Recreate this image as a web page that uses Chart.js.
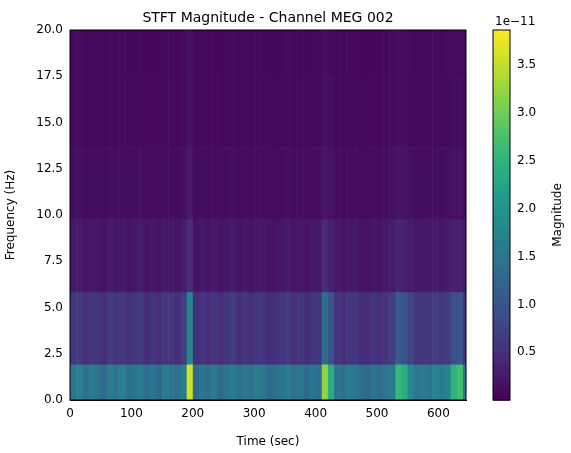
<!DOCTYPE html>
<html><head><script src="https://cdn.jsdelivr.net/npm/chart.js@4/dist/chart.umd.min.js"></script>
<style>body{margin:0;background:#fff}#a{position:absolute;left:0;top:0;width:480px;height:453px}#b{position:absolute;left:480px;top:0;width:91px;height:453px}</style>
</head><body><div id="a"><canvas id="c1"></canvas></div><div id="b"><canvas id="c2"></canvas></div>
<script>
const timeStep=10, timeMax=645;
const freqEdges=[0,1.95,5.86,9.77,13.67,17.58,21.5];
const band0=[1.5,1.7,1.4,1.6,1.5,1.3,1.6,1.5,1.7,1.4,1.5,1.6,1.4,1.5,1.3,1.6,1.5,1.4,1.6,3.6,1.3,1.5,1.4,1.6,1.3,1.5,1.6,1.4,1.5,1.4,1.6,1.5,1.3,1.4,1.5,1.6,1.4,1.5,1.3,1.5,1.4,3.2,2.4,1.5,1.4,1.6,1.5,1.4,1.3,1.5,1.4,1.5,1.6,2.6,2.4,1.8,1.5,1.6,1.5,1.7,1.6,1.8,2.5,2.7,1.6];
const band1=[0.6,0.7,0.5,0.6,0.6,0.5,0.7,0.6,0.6,0.5,0.6,0.7,0.5,0.6,0.5,0.6,0.6,0.5,0.7,1.8,0.5,0.6,0.5,0.6,0.5,0.6,0.7,0.5,0.6,0.5,0.6,0.6,0.5,0.5,0.6,0.7,0.5,0.6,0.5,0.6,0.6,1.4,1.0,0.6,0.5,0.6,0.6,0.5,0.5,0.6,0.5,0.6,0.7,1.1,1.0,0.8,0.6,0.6,0.6,0.7,0.6,0.7,0.9,1.0,0.6];
const band2=[0.25,0.3,0.2,0.25,0.25,0.2,0.3,0.25,0.25,0.2,0.25,0.3,0.2,0.25,0.2,0.25,0.25,0.2,0.3,0.5,0.2,0.25,0.2,0.25,0.2,0.25,0.3,0.2,0.25,0.2,0.25,0.25,0.2,0.2,0.25,0.3,0.2,0.25,0.2,0.25,0.25,0.45,0.35,0.25,0.2,0.25,0.25,0.2,0.2,0.25,0.2,0.25,0.3,0.4,0.35,0.3,0.25,0.25,0.25,0.3,0.25,0.3,0.35,0.35,0.25];
const band3=band2.map(v=>v*0.55);
const band4=band2.map(v=>v*0.4);
const band5=band2.map(v=>v*0.35);
const bands=[band0,band1,band2,band3,band4,band5];
const xTicks=[0,100,200,300,400,500,600];
const yTicks=[0,2.5,5,7.5,10,12.5,15,17.5,20];
const cTicks=[0.5,1,1.5,2,2.5,3,3.5];
const vmin=0, vmax=3.87;
const viridis=[[68,1,84],[72,40,120],[62,74,137],[49,104,142],[38,130,142],[31,158,137],[53,183,121],[109,205,89],[180,222,44],[253,231,37]];
function cmap(v){let t=Math.max(0,Math.min(1,(v-vmin)/(vmax-vmin)))*(viridis.length-1);let i=Math.min(Math.floor(t),viridis.length-2),f=t-i;const a=viridis[i],b=viridis[i+1];return `rgb(${a.map((x,k)=>Math.round(x+(b[k]-x)*f)).join(',')})`;}
Chart.defaults.font.family='DejaVu Sans';Chart.defaults.font.size=12;Chart.defaults.color='#000';
const heat={id:'heat',beforeDatasetsDraw(ch){const {ctx,chartArea:ca,scales:{x,y}}=ch;ctx.save();ctx.beginPath();ctx.rect(ca.left,ca.top,ca.width,ca.height);ctx.clip();
bands.forEach((b,j)=>b.forEach((v,i)=>{const x0=x.getPixelForValue(i*timeStep),x1=x.getPixelForValue(Math.min((i+1)*timeStep,timeMax));const y0=y.getPixelForValue(freqEdges[j]),y1=y.getPixelForValue(freqEdges[j+1]);ctx.fillStyle=cmap(v);ctx.fillRect(x0,y1,x1-x0+0.6,y0-y1+0.6);}));ctx.restore();
ctx.save();ctx.strokeStyle='#000';ctx.lineWidth=1;ctx.strokeRect(ca.left,ca.top,ca.width,ca.height);
ctx.fillStyle='#000';ctx.font='14px DejaVu Sans';ctx.textAlign='center';ctx.textBaseline='alphabetic';ctx.fillText('STFT Magnitude - Channel MEG 002',(ca.left+ca.right)/2,ca.top-8);ctx.restore();}};
const tk=(arr)=>function(s){s.ticks=arr.map(v=>({value:v}));};
new Chart(document.getElementById('c1'),{type:'scatter',data:{datasets:[{data:[]}]},plugins:[heat],
options:{animation:false,responsive:true,maintainAspectRatio:false,layout:{padding:{right:14,top:30,bottom:0}},
plugins:{legend:{display:false},title:{display:false},tooltip:{enabled:false}},
scales:{x:{type:'linear',min:0,max:timeMax,afterBuildTicks:tk(xTicks),ticks:{maxRotation:0,callback:v=>String(v)},grid:{display:false,tickLength:4,tickColor:'#000'},border:{color:'#000'},title:{display:true,text:'Time (sec)',font:{size:12},padding:{top:2}},afterFit(s){s.height=53;}},
y:{type:'linear',min:0,max:20,afterBuildTicks:tk(yTicks),ticks:{callback:v=>v.toFixed(1)},grid:{display:false,tickLength:4,tickColor:'#000'},border:{color:'#000'},title:{display:true,text:'Frequency (Hz)',font:{size:12}},afterFit(s){s.width=70;}}}}});
const cbar={id:'cbar',beforeDatasetsDraw(ch){const {ctx,chartArea:ca,scales:{y}}=ch;const n=200;for(let k=0;k<n;k++){const v0=vmin+(vmax-vmin)*k/n,v1=vmin+(vmax-vmin)*(k+1)/n;const p0=y.getPixelForValue(v0),p1=y.getPixelForValue(v1);ctx.fillStyle=cmap((v0+v1)/2);ctx.fillRect(ca.left,p1,ca.width,p0-p1+0.7);}
ctx.save();ctx.strokeStyle='#000';ctx.lineWidth=1;ctx.strokeRect(ca.left,ca.top,ca.width,ca.height);ctx.fillStyle='#000';ctx.font='12px DejaVu Sans';ctx.textAlign='left';ctx.fillText('1e\u221211',ca.left+2,ca.top-5);
ctx.translate(ca.right+48,(ca.top+ca.bottom)/2);ctx.rotate(-Math.PI/2);ctx.textAlign='center';ctx.textBaseline='middle';ctx.fillText('Magnitude',0,0);ctx.restore();}};
new Chart(document.getElementById('c2'),{type:'scatter',data:{datasets:[{data:[]}]},plugins:[cbar],
options:{animation:false,responsive:true,maintainAspectRatio:false,layout:{padding:{left:13,top:30,bottom:53,right:0}},
plugins:{legend:{display:false},tooltip:{enabled:false}},
scales:{x:{display:false,min:0,max:1},y:{position:'right',min:vmin,max:vmax,afterBuildTicks:tk(cTicks),ticks:{callback:v=>v.toFixed(1)},grid:{display:false,tickLength:4,tickColor:'#000'},border:{display:false},afterFit(s){s.width=61;}}}}});
</script></body></html>
